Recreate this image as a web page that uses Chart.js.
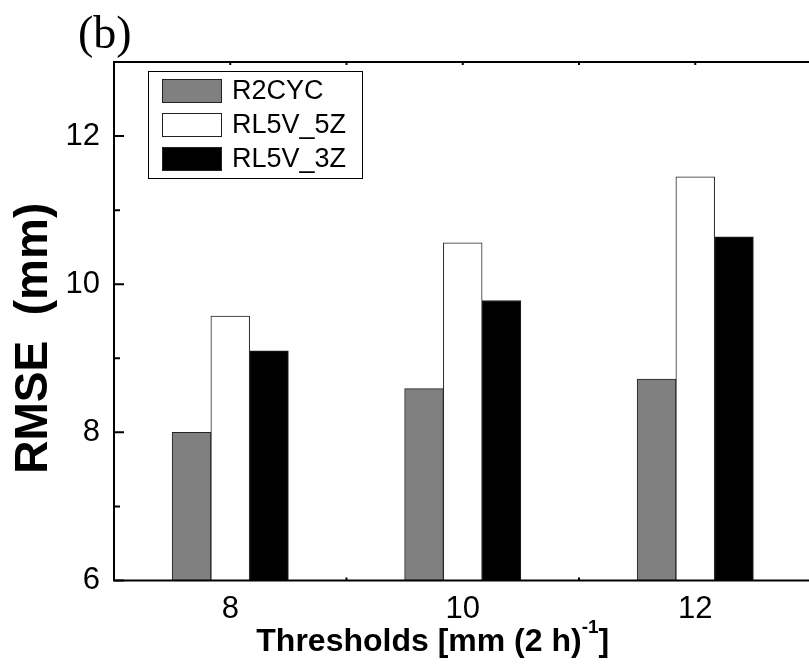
<!DOCTYPE html>
<html>
<head>
<meta charset="utf-8">
<script src="https://cdn.jsdelivr.net/npm/chart.js@4.4.0/dist/chart.umd.min.js"></script>
<style>
  html, body { margin: 0; padding: 0; background: #fff; overflow: hidden; }
  #wrap { width: 809px; height: 668px; overflow: hidden; }
</style>
</head>
<body>
<div id="wrap"><canvas id="chart" width="830" height="668"></canvas></div>
<script>
// data
const thresholds = [8, 10, 12];
const r2cyc  = [8.00, 8.59, 8.72];
const rl5v5z = [9.57, 10.56, 11.45];
const rl5v3z = [9.10, 9.78, 10.64];
const seriesNames = ['R2CYC', 'RL5V_5Z', 'RL5V_3Z'];
const yLabelled = [6, 8, 10, 12];
const xLabelled = [8, 10, 12];

const FONT = '"Liberation Sans", Arial, sans-serif';

function points(values) {
  return thresholds.map((t, i) => ({ x: t, y: values[i] }));
}

// box round the plot and the small inward ticks
const framePlugin = {
  id: 'frame',
  beforeDatasetsDraw(chart) {
    const { ctx, chartArea: a, scales: { x, y } } = chart;
    ctx.save();
    ctx.strokeStyle = '#000';
    ctx.lineWidth = 2;
    ctx.beginPath();
    y.ticks.forEach(t => {
      const py = y.getPixelForValue(t.value);
      const len = yLabelled.includes(t.value) ? 10 : 6;
      ctx.moveTo(a.left, py);
      ctx.lineTo(a.left + len, py);
    });
    x.ticks.forEach(t => {
      const px = x.getPixelForValue(t.value);
      ctx.moveTo(px, a.bottom);
      ctx.lineTo(px, a.bottom - 3);
      ctx.moveTo(px, a.top);
      ctx.lineTo(px, a.top + 3);
    });
    ctx.stroke();
    ctx.restore();
  },
  afterDatasetsDraw(chart) {
    const { ctx, chartArea: a } = chart;
    ctx.save();
    ctx.strokeStyle = '#000';
    ctx.lineWidth = 2;
    ctx.strokeRect(a.left, a.top, a.right - a.left, a.bottom - a.top);
    ctx.restore();
  }
};

// legend inside the plot, with a border
const boxLegend = {
  id: 'boxLegend',
  afterDatasetsDraw(chart) {
    const { ctx, chartArea: a } = chart;
    const bx = a.left + 34, by = a.top + 9;
    ctx.save();
    ctx.fillStyle = '#fff';
    ctx.fillRect(bx, by, 214, 107);
    ctx.strokeStyle = '#000';
    ctx.lineWidth = 1;
    ctx.strokeRect(bx + 0.5, by + 0.5, 214, 107);
    ctx.font = '27px ' + FONT;
    ctx.textBaseline = 'middle';
    ctx.textAlign = 'left';
    chart.data.datasets.forEach((ds, i) => {
      const sy = by + 8 + i * 34;
      ctx.fillStyle = ds.backgroundColor;
      ctx.fillRect(bx + 14, sy, 60, 24);
      ctx.strokeStyle = ds.borderColor;
      ctx.strokeRect(bx + 14.5, sy + 0.5, 59, 23);
      ctx.fillStyle = '#000';
      ctx.fillText(ds.label, bx + 84, sy + 13);
    });
    ctx.restore();
  }
};

// panel letter and axis titles
const titles = {
  id: 'titles',
  afterDraw(chart) {
    const { ctx, chartArea: a } = chart;
    ctx.save();
    ctx.fillStyle = '#000';

    ctx.font = '46px "Liberation Serif", "Times New Roman", serif';
    ctx.textAlign = 'left';
    ctx.textBaseline = 'alphabetic';
    ctx.fillText('(b)', 78, 48);

    ctx.save();
    ctx.translate(34, (a.top + a.bottom) / 2 + 17);
    ctx.rotate(-Math.PI / 2);
    ctx.font = 'bold 46px ' + FONT;
    ctx.textAlign = 'center';
    ctx.textBaseline = 'middle';
    ctx.fillText('RMSE  (mm)', 0, 0);
    ctx.restore();

    const main = 'Thresholds [mm (2 h)', sup = '-1', tail = ']';
    const mainFont = 'bold 32px ' + FONT, supFont = 'bold 19px ' + FONT;
    ctx.font = mainFont;
    const wMain = ctx.measureText(main).width, wTail = ctx.measureText(tail).width;
    ctx.font = supFont;
    const wSup = ctx.measureText(sup).width;
    let px = (a.left + a.right) / 2 - 30 - (wMain + wSup + wTail) / 2;
    const base = 651;
    ctx.textAlign = 'left';
    ctx.font = mainFont;
    ctx.fillText(main, px, base);
    px += wMain;
    ctx.font = supFont;
    ctx.fillText(sup, px, base - 18);
    px += wSup;
    ctx.font = mainFont;
    ctx.fillText(tail, px, base);
    ctx.restore();
  }
};

const fills = ['#808080', '#ffffff', '#000000'];
const series = [r2cyc, rl5v5z, rl5v3z];

new Chart(document.getElementById('chart'), {
  type: 'bar',
  data: {
    datasets: series.map((vals, i) => ({
      label: seriesNames[i],
      data: points(vals),
      backgroundColor: fills[i],
      borderColor: '#222',
      borderWidth: 1,
      categoryPercentage: 1,
      barPercentage: 1
    }))
  },
  options: {
    responsive: false,
    animation: false,
    devicePixelRatio: 1,
    layout: { padding: { left: 0, top: 62, right: 18.5, bottom: 0 } },
    plugins: { legend: { display: false }, tooltip: { enabled: false } },
    scales: {
      x: {
        type: 'linear',
        min: 7, max: 13,
        offset: false,
        grid: { display: false, drawTicks: false, offset: false },
        border: { display: false },
        ticks: {
          stepSize: 1,
          autoSkip: false,
          maxRotation: 0,
          padding: 10,
          color: '#000',
          font: { family: FONT, size: 31 },
          callback: v => xLabelled.includes(v) ? String(v) : ''
        },
        afterFit: s => { s.height = 87.5; }
      },
      y: {
        min: 6, max: 13,
        grid: { display: false, drawTicks: false },
        border: { display: false },
        ticks: {
          stepSize: 1,
          autoSkip: false,
          padding: 14,
          color: '#000',
          font: { family: FONT, size: 31 },
          callback: v => yLabelled.includes(v) ? String(v) : ''
        },
        afterFit: s => { s.width = 114; }
      }
    }
  },
  plugins: [framePlugin, boxLegend, titles]
});
</script>
</body>
</html>
